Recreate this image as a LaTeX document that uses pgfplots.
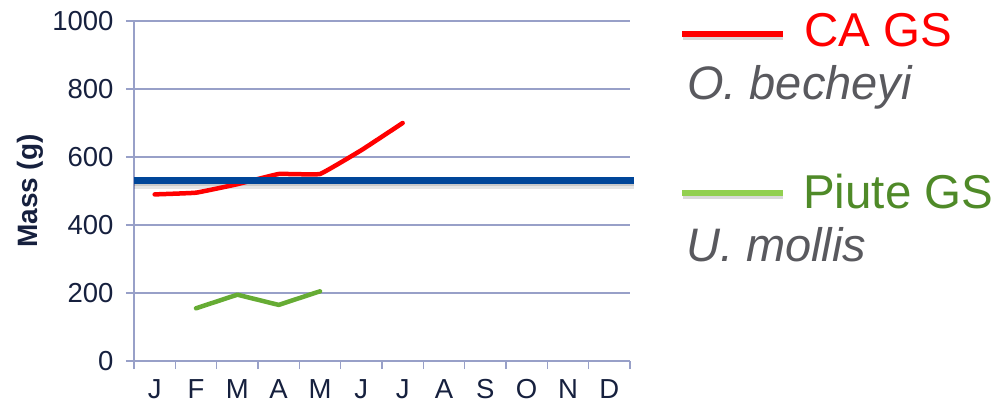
\documentclass[border=0pt]{standalone}
\usepackage{fontspec}
\setmainfont{Liberation Sans}
\usepackage{pgfplots}
\pgfplotsset{compat=1.18}

\definecolor{gridcol}{RGB}{152,160,200}
\definecolor{labcol}{RGB}{22,32,62}
\definecolor{careed}{RGB}{255,0,0}
\definecolor{piutegreen}{RGB}{102,172,52}
\definecolor{legendgreen}{RGB}{146,208,80}
\definecolor{greentext}{RGB}{79,138,40}
\definecolor{speciesgray}{RGB}{89,89,94}
\definecolor{refblue}{RGB}{0,70,153}

\begin{document}
\begin{tikzpicture}
\useasboundingbox (0,0) rectangle (1000pt,407pt);
\begin{axis}[
  at={(134pt,46pt)}, anchor=south west,
  scale only axis, width=496pt, height=340pt,
  xmin=-0.5, xmax=11.5, ymin=0, ymax=1000,
  clip=false,
  axis x line*=bottom, axis y line*=left,
  axis line style={gridcol, line width=1.6pt},
  ytick={0,200,...,1000},
  ymajorgrids, grid style={gridcol, line width=1.6pt},
  xtick={-0.5,0.5,...,11.5}, xticklabels={},
  extra x ticks={0,1,...,11},
  extra x tick labels={J,F,M,A,M,J,J,A,S,O,N,D},
  extra x tick style={major tick length=0pt, grid=none,
    xticklabel style={yshift=-15pt}},
  tick align=outside, major tick length=8pt,
  tick style={gridcol, line width=1.6pt},
  ticklabel style={font=\fontsize{27.5}{33}\selectfont, text=labcol},
  yticklabel style={xshift=-9pt},
  /pgf/number format/assume math mode=true,
  /pgf/number format/1000 sep={},
  ylabel={\textbf{Mass (g)}},
  ylabel style={font=\fontsize{28}{33}\selectfont, text=labcol,
    at={(axis description cs:-0.2097,0.5)}, anchor=center, rotate=0},
]
% soft shadow under the reference level
\addplot[black, opacity=0.10, line width=9pt, yshift=-4pt, forget plot]
  coordinates {(-0.5,530) (11.6,530)};
\addplot[black, opacity=0.12, line width=5pt, yshift=-3pt, forget plot]
  coordinates {(-0.5,530) (11.6,530)};
% CA GS, O. becheyi
\addplot[careed, line width=4.5pt, line cap=round, smooth, tension=0.15]
  coordinates {(0,490) (1,495) (2,520) (3,550) (4,550) (5,620) (6,700)};
% Piute GS, U. mollis
\addplot[piutegreen, line width=4.5pt, line cap=round, line join=round]
  coordinates {(1,155) (2,195) (3,165) (4,205)};
% reference level
\addplot[refblue, line width=7pt]
  coordinates {(-0.5,530) (11.6,530)};
\end{axis}

% key
\draw[black, opacity=0.15, line width=6pt] (683pt,370pt) -- (783pt,370pt);
\draw[careed, line width=5.5pt] (682pt,373pt) -- (783pt,373pt);
\node[anchor=base west, inner sep=0pt, text=careed,
  font=\fontsize{47.5}{56}\selectfont] at (804pt,360pt) {CA GS};
\node[anchor=base west, inner sep=0pt, text=speciesgray,
  font=\fontsize{47}{56}\selectfont\itshape] at (687pt,307pt) {O. becheyi};
\draw[black, opacity=0.15, line width=6pt] (683pt,211pt) -- (783pt,211pt);
\draw[legendgreen, line width=5.5pt] (682pt,214pt) -- (783pt,214pt);
\node[anchor=base west, inner sep=0pt, text=greentext,
  font=\fontsize{47.5}{56}\selectfont] at (803pt,198pt) {Piute GS};
\node[anchor=base west, inner sep=0pt, text=speciesgray,
  font=\fontsize{47}{56}\selectfont\itshape] at (686pt,145pt) {U. mollis};
\end{tikzpicture}
\end{document}
